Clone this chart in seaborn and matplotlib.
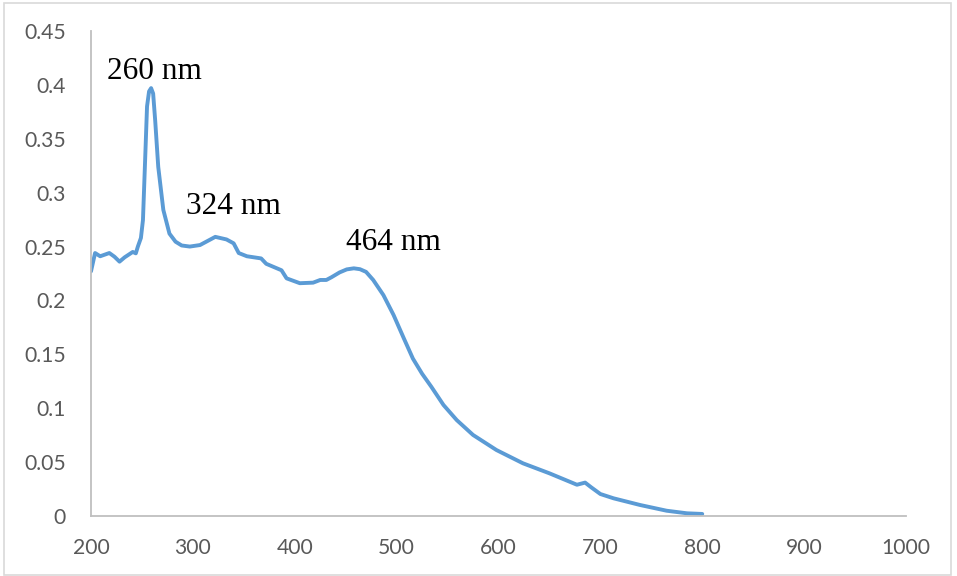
import matplotlib
matplotlib.use("Agg")
import matplotlib.pyplot as plt
from matplotlib.patches import Rectangle
import pandas as pd
import seaborn as sns

# UV-Vis absorption spectrum
wavelength = [200, 204, 209, 218, 223, 228, 233, 241, 244, 246, 249, 251, 253, 255,
              257, 259, 261, 263, 266, 271, 277, 283, 289, 297, 307, 322, 333, 340,
              345, 353, 367, 372, 387, 392, 405, 418, 425, 431, 436, 444, 451, 458,
              464, 470, 477, 487, 497, 507, 516, 525, 534, 546, 559, 575, 598, 624,
              650, 677, 685, 691, 700, 713, 739, 765, 785, 800]
absorbance = [0.227, 0.244, 0.241, 0.244, 0.2406, 0.236, 0.240, 0.245, 0.2437,
              0.250, 0.258, 0.2746, 0.327, 0.380, 0.394, 0.397, 0.392, 0.367, 0.324,
              0.284, 0.262, 0.2545, 0.2510, 0.250, 0.2514, 0.259, 0.2566, 0.253,
              0.244, 0.241, 0.239, 0.234, 0.228, 0.2205, 0.216, 0.2165, 0.219, 0.219,
              0.2215, 0.226, 0.2288, 0.2298, 0.2290, 0.2265, 0.219, 0.205, 0.1865,
              0.165, 0.146, 0.132, 0.120, 0.103, 0.089, 0.0752, 0.0612, 0.0489,
              0.0396, 0.0290, 0.031, 0.0266, 0.0204, 0.0164, 0.0102, 0.0049, 0.0025,
              0.0019]

peak_labels = ["260 nm", "324 nm", "464 nm"]
label_pos = [(216, 0.405), (293, 0.28), (450, 0.247)]

x_ticks = [200, 300, 400, 500, 600, 700, 800, 900, 1000]
y_ticks = [0, 0.05, 0.1, 0.15, 0.2, 0.25, 0.3, 0.35, 0.4, 0.45]
y_tick_labels = ["0", "0.05", "0.1", "0.15", "0.2", "0.25", "0.3", "0.35", "0.4", "0.45"]

sns.set_style("white")
plt.rcParams["font.family"] = ["Lato", "DejaVu Sans"]

W, H = 957, 576
fig = plt.figure(figsize=(W / 100, H / 100), dpi=100)
ax = fig.add_axes([91 / W, 1 - 516 / H, (906 - 91) / W, (516 - 31) / H])

df = pd.DataFrame({"wavelength": wavelength, "absorbance": absorbance})
sns.lineplot(data=df, x="wavelength", y="absorbance", ax=ax, color="#5B9BD5",
             linewidth=2.8, sort=False)
for line in ax.lines:
    line.set_solid_joinstyle("round")
    line.set_solid_capstyle("round")

ax.set_xlim(200, 1000)
ax.set_ylim(0, 0.45)
ax.set_xticks(x_ticks)
ax.set_xticklabels([str(t) for t in x_ticks])
ax.set_yticks(y_ticks)
ax.set_yticklabels(y_tick_labels)
ax.set_xlabel("")
ax.set_ylabel("")
ax.tick_params(axis="both", length=0, labelsize=15.2, colors="#595959")
ax.tick_params(axis="y", pad=18)
ax.tick_params(axis="x", pad=16)

for side in ["top", "right"]:
    ax.spines[side].set_visible(False)
for side in ["left", "bottom"]:
    ax.spines[side].set_color("#BFBFBF")
    ax.spines[side].set_linewidth(1.3)

for text, (tx, ty) in zip(peak_labels, label_pos):
    ax.text(tx, ty, text, fontsize=22.5, family=["Liberation Serif"],
            color="black", ha="left", va="baseline")

# outer chart border
fig.patches.append(Rectangle((4 / W, 1 / H), (951 - 4) / W, (573 - 1) / H,
                             transform=fig.transFigure, fill=False,
                             edgecolor="#D9D9D9", linewidth=1.2))

fig.savefig("out.png", dpi=100)
